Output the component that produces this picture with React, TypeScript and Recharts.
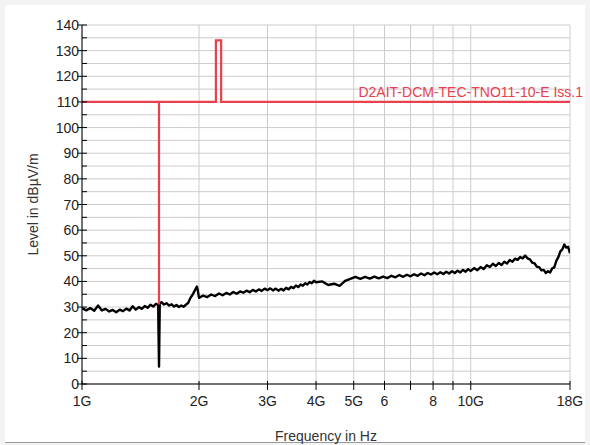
import React from 'react';
import {
  LineChart,
  Line,
  XAxis,
  YAxis,
  CartesianGrid,
  ReferenceDot,
} from 'recharts';

const FONT = '"Liberation Sans", Arial, sans-serif';
const RED = '#e8404c';

// frequency ticks in GHz (log axis)
const X_TICKS = [1, 2, 3, 4, 5, 6, 7, 8, 9, 10, 18];
const X_LABELS: Record<number, string> = {
  1: '1G', 2: '2G', 3: '3G', 4: '4G', 5: '5G', 6: '6', 7: '', 8: '8', 9: '', 10: '10G', 18: '18G',
};
const Y_TICKS = [0, 5, 10, 15, 20, 25, 30, 35, 40, 45, 50, 55, 60, 65, 70, 75, 80, 85, 90, 95, 100, 105, 110, 115, 120, 125, 130, 135, 140];

// limit line D2AIT-DCM-TEC-TNO11-10-E Iss.1 (GHz, dBµV/m)
const LIMIT_F = [1, 1.578, 1.578, 1.578, 2.21, 2.21, 2.28, 2.28, 18];
const LIMIT_L = [110, 110, 31, 110, 110, 134, 134, 110, 110];
const LIMIT_NAME = 'D2AIT-DCM-TEC-TNO11-10-E Iss.1';

// measured trace 1 - 2 GHz
const TRACE_A: [number, number][] = [
  [1.0, 29.6], [1.025, 28.7], [1.05, 29.6], [1.075, 28.6], [1.1, 30.6], [1.125, 28.7],
  [1.15, 29.3], [1.175, 28.3], [1.2, 28.9], [1.225, 28.0], [1.25, 29.0], [1.275, 28.4],
  [1.3, 29.4], [1.325, 28.7], [1.35, 30.3], [1.375, 29.0], [1.4, 30.0], [1.425, 29.3],
  [1.45, 30.4], [1.475, 29.7], [1.5, 30.9], [1.525, 30.2], [1.55, 31.3], [1.57, 30.8],
  [1.578, 6.8], [1.585, 31.5], [1.6, 31.9], [1.625, 31.0], [1.65, 31.5], [1.675, 30.6],
  [1.7, 31.1], [1.725, 30.2], [1.75, 30.8], [1.775, 30.0], [1.8, 30.6], [1.825, 30.1],
  [1.85, 30.9], [1.875, 31.6], [1.9, 33.5], [1.925, 34.8], [1.95, 36.4], [1.975, 38.0],
  [1.985, 36.6], [2.0, 33.6],
];
// 2 - 4 GHz
const TRACE_B: [number, number][] = [
  [2.05, 34.5], [2.1, 33.9], [2.15, 34.9], [2.2, 34.3], [2.25, 35.3], [2.3, 34.6],
  [2.35, 35.5], [2.4, 34.9], [2.45, 35.9], [2.5, 35.2], [2.55, 36.1], [2.6, 35.6],
  [2.65, 36.4], [2.7, 35.8], [2.75, 36.7], [2.8, 36.1], [2.85, 36.9], [2.9, 36.3],
  [2.95, 37.2], [3.0, 36.6], [3.05, 37.3], [3.1, 36.5], [3.15, 37.2], [3.2, 36.4],
  [3.25, 37.1], [3.3, 36.5], [3.35, 37.5], [3.4, 36.9], [3.45, 37.9], [3.5, 37.4],
  [3.55, 38.4], [3.6, 37.8], [3.65, 38.8], [3.7, 38.3], [3.75, 39.3], [3.8, 38.8],
  [3.85, 39.8], [3.9, 39.3], [3.95, 40.3], [4.0, 39.7],
];
// 4 - 10 GHz
const TRACE_C: [number, number][] = [
  [4.15, 40.0], [4.3, 38.6], [4.45, 39.1], [4.6, 38.3], [4.75, 40.2], [4.9, 41.0],
  [5.05, 41.8], [5.2, 41.0], [5.35, 41.8], [5.5, 41.1], [5.65, 41.9], [5.8, 41.2],
  [5.95, 41.9], [6.1, 41.3], [6.25, 42.2], [6.4, 41.6], [6.55, 42.5], [6.7, 41.8],
  [6.85, 42.6], [7.0, 42.0], [7.15, 42.8], [7.3, 42.2], [7.45, 43.1], [7.6, 42.4],
  [7.75, 43.3], [7.9, 42.7], [8.05, 43.5], [8.2, 42.8], [8.35, 43.6], [8.5, 42.9],
  [8.65, 43.8], [8.8, 43.1], [8.95, 44.0], [9.1, 43.3], [9.25, 44.2], [9.4, 43.5],
  [9.55, 44.5], [9.7, 43.8], [9.85, 44.8], [10.0, 44.1],
];
// 10 - 18 GHz
const TRACE_D: [number, number][] = [
  [10.2, 45.2], [10.4, 44.4], [10.6, 45.6], [10.8, 44.8], [11.0, 46.3], [11.2, 45.6],
  [11.4, 46.9], [11.6, 46.0], [11.8, 47.2], [12.0, 46.4], [12.2, 47.7], [12.4, 47.0],
  [12.6, 48.4], [12.8, 47.7], [13.0, 48.9], [13.2, 48.4], [13.4, 49.5], [13.6, 49.0],
  [13.8, 50.1], [14.0, 49.0], [14.2, 48.6], [14.4, 47.3], [14.6, 47.0], [14.8, 45.7],
  [15.0, 45.6], [15.2, 44.3], [15.4, 44.5], [15.6, 43.3], [15.8, 44.0], [16.0, 43.5],
  [16.2, 45.1], [16.4, 45.5], [16.6, 48.0], [16.8, 49.5], [17.0, 51.7], [17.2, 52.5],
  [17.4, 54.4], [17.6, 53.2], [17.8, 53.5], [18.0, 51.0],
];

const traceData = [...TRACE_A, ...TRACE_B, ...TRACE_C, ...TRACE_D].map(([f, v]) => ({ f, v }));
const limitData = LIMIT_F.map((f, i) => ({ f, v: LIMIT_L[i] }));

const YTick = ({ x, y, payload }: any) => {
  const major = payload.value % 10 === 0;
  return (
    <g>
      <line x1={major ? x - 5 : x} x2={x + 5} y1={y} y2={y} stroke="#000" />
      {major && (
        <text x={x - 3} y={y} dy={5} textAnchor="end" fontSize={14} fill="#222" fontFamily={FONT}>
          {payload.value}
        </text>
      )}
    </g>
  );
};

const XTick = ({ x, y, payload }: any) => (
  <g>
    <line x1={x} x2={x} y1={y - 3} y2={y + 6} stroke="#000" />
    <text x={x} y={y} dy={22} textAnchor="middle" fontSize={14} fill="#222" fontFamily={FONT}>
      {X_LABELS[payload.value]}
    </text>
  </g>
);

const LimitName = ({ viewBox }: any) => (
  <text
    x={viewBox.x + 13}
    y={viewBox.y - 5}
    textAnchor="end"
    fontSize={14}
    fill={RED}
    fontFamily={FONT}
  >
    {LIMIT_NAME}
  </text>
);

export default function App() {
  return (
    <div style={{ position: 'absolute', left: 0, top: 0, width: 590, height: 445, background: '#f3f3f3', fontFamily: FONT }}>
      <div style={{ position: 'absolute', left: 5, top: 5, width: 580, height: 437, background: '#fff', borderBottom: '1px solid #999' }} />
      <div style={{ position: 'absolute', left: 0, top: 0 }}>
        <LineChart width={590} height={445} margin={{ top: 25, right: 20, left: 0, bottom: 0 }}>
          <CartesianGrid stroke="#cccccc" strokeWidth={1} />
          <XAxis
            dataKey="f"
            type="number"
            scale="log"
            domain={[1, 18]}
            ticks={X_TICKS}
            interval={0}
            height={61}
            tickSize={0}
            tickMargin={0}
            tick={<XTick />}
            axisLine={{ stroke: '#000' }}
            tickLine={false}
            allowDataOverflow
            label={{ value: 'Frequency in Hz', position: 'insideBottom', offset: 4, fontSize: 14, fill: '#333', fontFamily: FONT }}
          />
          <YAxis
            type="number"
            domain={[0, 140]}
            ticks={Y_TICKS}
            interval={0}
            width={82}
            tickSize={0}
            tickMargin={0}
            tick={<YTick />}
            axisLine={{ stroke: '#000' }}
            tickLine={false}
            label={{
              value: 'Level in dBµV/m',
              angle: -90,
              position: 'insideLeft',
              offset: 33,
              fontSize: 14,
              fill: '#333',
              fontFamily: FONT,
              style: { textAnchor: 'middle' },
            }}
          />
          <Line
            data={traceData}
            dataKey="v"
            type="linear"
            stroke="#000"
            strokeWidth={2.4}
            strokeLinejoin="round"
            dot={false}
            isAnimationActive={false}
          />
          <Line
            data={limitData}
            dataKey="v"
            type="linear"
            stroke={RED}
            strokeWidth={2.2}
            dot={false}
            isAnimationActive={false}
          />
          <ReferenceDot x={18} y={110} r={0} stroke="none" fill="none" label={<LimitName />} />
        </LineChart>
      </div>
    </div>
  );
}
